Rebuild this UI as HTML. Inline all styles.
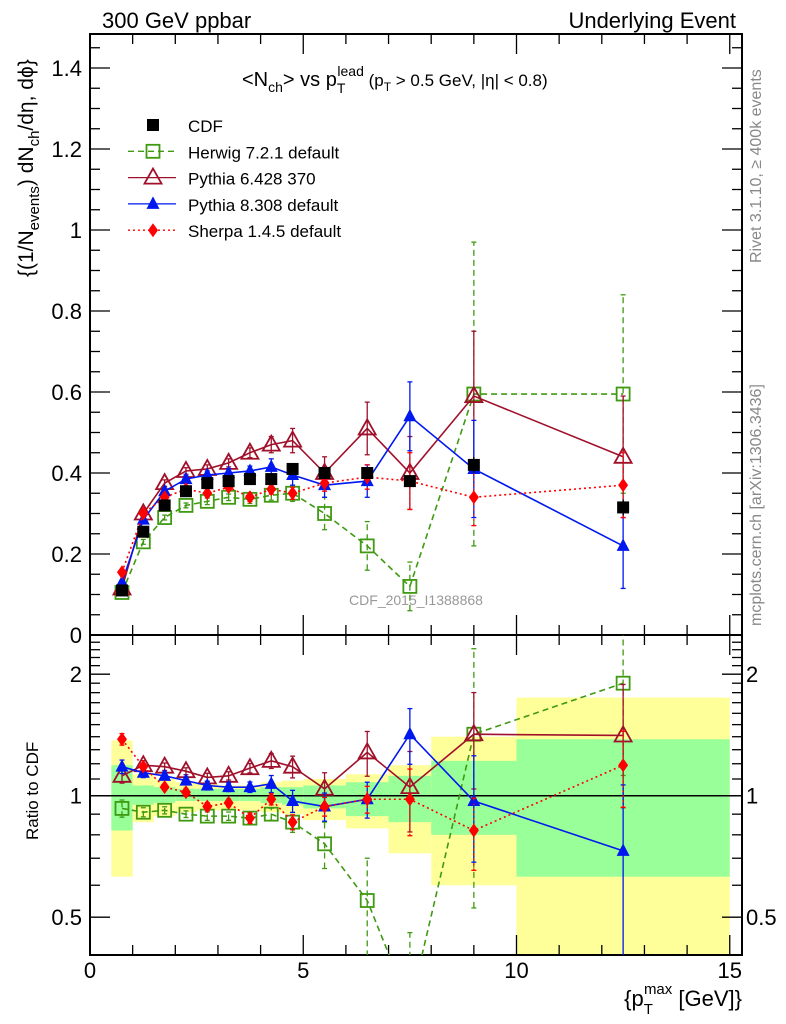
<!DOCTYPE html>
<html><head><meta charset="utf-8"><style>
html,body{margin:0;padding:0;background:#fff;overflow:hidden;width:786px;height:1024px;}
svg{font-family:"Liberation Sans",sans-serif;display:block;}
</style></head><body>
<svg id="chart" width="786" height="1024" viewBox="0 0 786 1024" xmlns="http://www.w3.org/2000/svg">
<defs>
<clipPath id="clipMain"><rect x="90" y="34" width="652" height="601"/></clipPath>
<clipPath id="clipRatio"><rect x="90" y="635" width="652" height="320"/></clipPath>
</defs>
<g id="bands" clip-path="url(#clipRatio)"></g>
<g id="axes"></g>
<g id="seriesMain" clip-path="url(#clipMain)"></g>
<g id="seriesRatio" clip-path="url(#clipRatio)"></g>
<text x="102" y="28" font-size="22">300 GeV ppbar</text>
<text x="736" y="28" font-size="22" text-anchor="end">Underlying Event</text>
<text x="242" y="86" font-size="20">&lt;N<tspan font-size="14" dy="6">ch</tspan><tspan dy="-6">&gt; vs p</tspan><tspan font-size="14" dy="7">T</tspan><tspan font-size="14" dx="-8" dy="-17">lead</tspan><tspan font-size="17" dy="10"> (p</tspan><tspan font-size="12" dy="5">T</tspan><tspan font-size="17" dy="-5"> &gt; 0.5 GeV, |η| &lt; 0.8)</tspan></text>
<text transform="translate(33,277) rotate(-90)" font-size="21">{(1/N<tspan font-size="15" dy="6">events</tspan><tspan dy="-6">) dN</tspan><tspan font-size="15" dy="6">ch</tspan><tspan dy="-6">/dη, dϕ}</tspan></text>
<text transform="translate(38,840) rotate(-90)" font-size="17">Ratio to CDF</text>
<text x="742" y="1006" font-size="22" text-anchor="end">{p<tspan font-size="15" dy="8">T</tspan><tspan font-size="15" dx="-9" dy="-20">max</tspan><tspan dy="12"> [GeV]}</tspan></text>
<text transform="translate(761,263) rotate(-90)" font-size="16" fill="#888">Rivet 3.1.10, ≥ 400k events</text>
<text transform="translate(761,626) rotate(-90)" font-size="16" fill="#888">mcplots.cern.ch [arXiv:1306.3436]</text>
<text x="416" y="605" font-size="14" fill="#999" text-anchor="middle">CDF_2015_I1388868</text>
<g id="legend"></g>
</svg>
<script>
const binEdges=[0.5,1,1.5,2,2.5,3,3.5,4,4.5,5,6,7,8,10,15];
const xCenters=[0.75,1.25,1.75,2.25,2.75,3.25,3.75,4.25,4.75,5.5,6.5,7.5,9,12.5];
const cdfVals=[0.11,0.255,0.32,0.355,0.375,0.38,0.385,0.385,0.41,0.40,0.40,0.38,0.42,0.315];
const cdfErr=[0.005,0.006,0.006,0.006,0.006,0.006,0.007,0.008,0.009,0.01,0.012,0.015,0.02,0.02];
const herwigVals=[0.105,0.23,0.29,0.32,0.33,0.34,0.335,0.345,0.35,0.30,0.22,0.12,0.595,0.595];
const herwigErr=[0.005,0.006,0.006,0.006,0.008,0.008,0.01,0.012,0.02,0.04,0.06,0.06,0.375,0.245];
const py6Vals=[0.115,0.30,0.375,0.405,0.41,0.425,0.45,0.47,0.48,0.40,0.51,0.40,0.59,0.44];
const py6Err=[0.005,0.008,0.008,0.008,0.01,0.01,0.012,0.02,0.03,0.04,0.065,0.09,0.16,0.15];
const py8Vals=[0.13,0.285,0.355,0.385,0.395,0.40,0.405,0.415,0.395,0.37,0.38,0.54,0.41,0.22];
const py8Err=[0.005,0.008,0.008,0.008,0.01,0.01,0.012,0.02,0.025,0.03,0.04,0.085,0.12,0.105];
const sherpaVals=[0.155,0.30,0.34,0.36,0.35,0.365,0.34,0.36,0.35,0.375,0.39,0.38,0.34,0.37];
const sherpaErr=[0.005,0.005,0.005,0.008,0.008,0.008,0.01,0.012,0.015,0.02,0.03,0.07,0.07,0.08];
const herwigRatio=[0.93,0.91,0.92,0.90,0.89,0.89,0.88,0.90,0.86,0.76,0.55,0.30,1.42,1.90];
const py6Ratio=[1.12,1.19,1.18,1.15,1.11,1.12,1.17,1.22,1.18,1.04,1.28,1.05,1.42,1.41];
const py8Ratio=[1.18,1.14,1.12,1.09,1.06,1.05,1.05,1.07,0.97,0.94,0.98,1.42,0.97,0.73];
const sherpaRatio=[1.38,1.18,1.05,1.02,0.94,0.96,0.88,0.98,0.86,0.94,0.98,0.98,0.82,1.19];
const yellowHi=[1.37,1.13,1.10,1.08,1.07,1.06,1.06,1.08,1.09,1.10,1.13,1.19,1.40,1.75];
const yellowLo=[0.63,0.86,0.89,0.91,0.92,0.92,0.92,0.91,0.90,0.87,0.83,0.72,0.60,0.30];
const greenHi=[1.19,1.06,1.05,1.04,1.04,1.04,1.04,1.05,1.05,1.06,1.08,1.12,1.22,1.38];
const greenLo=[0.82,0.95,0.96,0.97,0.97,0.97,0.97,0.96,0.95,0.93,0.89,0.86,0.80,0.63];
const mainTicks=[0,0.2,0.4,0.6,0.8,1,1.2,1.4];
const mainTickLabels=["0","0.2","0.4","0.6","0.8","1","1.2","1.4"];
const ratioTicks=[0.5,1,2];
const ratioTickLabels=["0.5","1","2"];
const xTicks=[0,5,10,15];
const xTickLabels=["0","5","10","15"];

const X0=90,X1=742,PX=42.65;
const xs=v=>X0+v*PX;
const ym=v=>635-v*405;
const yr=v=>795.7-121.5*Math.log2(v);
const NS="http://www.w3.org/2000/svg";
function mk(tag,attrs,parent){const e=document.createElementNS(NS,tag);for(const k in attrs)e.setAttribute(k,attrs[k]);parent.appendChild(e);return e;}

const bands=document.getElementById('bands');
for(let i=0;i<xCenters.length;i++){
  const a=xs(binEdges[i]),b=xs(binEdges[i+1]);
  const y1=mk('rect',{x:a,y:yr(yellowHi[i]),width:b-a,height:yr(yellowLo[i])-yr(yellowHi[i]),fill:'#ffff99'},bands);
  
  
  const g1=mk('rect',{x:a,y:yr(greenHi[i]),width:b-a,height:yr(greenLo[i])-yr(greenHi[i]),fill:'#99ff99'},bands);
  
  
}

const ax=document.getElementById('axes');
function frame(y0,y1,name){const r=mk('rect',{x:X0,y:y0,width:X1-X0,height:y1-y0,fill:'none',stroke:'#000','stroke-width':2},ax);}
frame(34,635,'main-plot-frame');frame(635,955,'ratio-plot-frame');
const one=mk('line',{x1:X0,x2:X1,y1:yr(1),y2:yr(1),stroke:'#000','stroke-width':1.5},ax);


function tk(x1,y1,x2,y2){mk('line',{x1,y1,x2,y2,stroke:'#000','stroke-width':1.3},ax);}
for(let v=0;v<=15;v++){const x=xs(v);const L=(v%5==0)?20:10;
  tk(x,635,x,635-L);tk(x,34,x,34+L);tk(x,955,x,955-L);tk(x,635,x,635+L);}
for(let k=0;k<=29;k++){const v=k*0.05;const y=ym(v);if(y<34)continue;const L=(k%4==0)?20:10;tk(X0,y,X0+L,y);tk(X1,y,X1-L,y);}
mainTicks.forEach((v,i)=>{const t=mk('text',{x:82,y:ym(v)+8,'font-size':22,'text-anchor':'end'},ax);t.textContent=mainTickLabels[i];
  });
[0.4,0.5,0.6,0.7,0.8,0.9,1,1.1,1.2,1.3,1.4,1.5,1.6,1.7,1.8,1.9,2,2.1,2.2,2.3,2.4].forEach(v=>{const y=yr(v);if(y<636||y>954)return;const L=(v==0.5||v==1||v==2)?20:10;tk(X0,y,X0+L,y);tk(X1,y,X1-L,y);});
ratioTicks.forEach((v,i)=>{
  const t=mk('text',{x:82,y:yr(v)+8,'font-size':22,'text-anchor':'end'},ax);t.textContent=ratioTickLabels[i];
  
  const t2=mk('text',{x:746,y:yr(v)+8,'font-size':22},ax);t2.textContent=ratioTickLabels[i];
  });
xTicks.forEach((v,i)=>{const t=mk('text',{x:xs(v),y:978,'font-size':22,'text-anchor':'middle'},ax);t.textContent=xTickLabels[i];
  });

function marker(g,type,x,y,col){
  if(type=='sq')mk('rect',{x:x-6,y:y-6,width:12,height:12,fill:'#000'},g);
  else if(type=='osq')mk('rect',{x:x-6.5,y:y-6.5,width:13,height:13,fill:'none',stroke:col,'stroke-width':1.8},g);
  else if(type=='otri')mk('polygon',{points:`${x},${y-9} ${x-8.5},${y+6} ${x+8.5},${y+6}`,fill:'none',stroke:col,'stroke-width':1.8},g);
  else if(type=='tri')mk('polygon',{points:`${x},${y-7.5} ${x-6.5},${y+5} ${x+6.5},${y+5}`,fill:col},g);
  else if(type=='dia')mk('polygon',{points:`${x},${y-7} ${x-5},${y} ${x},${y+7} ${x+5},${y}`,fill:col},g);
}
const series=[
 {name:'herwig',vals:herwigVals,err:herwigErr,ratio:herwigRatio,col:'#3f9a12',m:'osq',dash:'6,4',w:1.6},
 {name:'pythia6',vals:py6Vals,err:py6Err,ratio:py6Ratio,col:'#a0102a',m:'otri',dash:'',w:1.6},
 {name:'pythia8',vals:py8Vals,err:py8Err,ratio:py8Ratio,col:'#0018f0',m:'tri',dash:'',w:1.6},
 {name:'sherpa',vals:sherpaVals,err:sherpaErr,ratio:sherpaRatio,col:'#ff0000',m:'dia',dash:'2,3',w:1.6}
];
function draw(parent,s,yf,vals,errs){
  const g=mk('g',{},parent);
  
  
  const pts=xCenters.map((x,i)=>xs(x)+','+yf(vals[i])).join(' ');
  const a={points:pts,fill:'none',stroke:s.col,'stroke-width':s.w};if(s.dash)a['stroke-dasharray']=s.dash;
  mk('polyline',a,g);
  xCenters.forEach((x,i)=>{const X=xs(x);const lo=yf(Math.max(vals[i]-errs[i],0.01)),hi=yf(vals[i]+errs[i]);
    const b={x1:X,x2:X,y1:lo,y2:hi,stroke:s.col,'stroke-width':1.3};if(s.dash)b['stroke-dasharray']=s.dash;mk('line',b,g);
    mk('line',{x1:X-2.5,x2:X+2.5,y1:lo,y2:lo,stroke:s.col,'stroke-width':1.3},g);
    mk('line',{x1:X-2.5,x2:X+2.5,y1:hi,y2:hi,stroke:s.col,'stroke-width':1.3},g);
    marker(g,s.m,X,yf(vals[i]),s.col);});
}
const sm=document.getElementById('seriesMain'),sr=document.getElementById('seriesRatio');
series.forEach(s=>{
  draw(sm,s,ym,s.vals,s.err);
  draw(sr,s,yr,s.ratio,s.err.map((e,i)=>e/cdfVals[i]));
});
const cg=mk('g',{},sm);


xCenters.forEach((x,i)=>{mk('line',{x1:xs(x),x2:xs(x),y1:ym(cdfVals[i]-cdfErr[i]),y2:ym(cdfVals[i]+cdfErr[i]),stroke:'#000','stroke-width':1.3},cg);marker(cg,'sq',xs(x),ym(cdfVals[i]),'#000');});

const lg=document.getElementById('legend');
const legItems=[['CDF','sq','#000',''],['Herwig 7.2.1 default','osq','#3f9a12','6,4'],['Pythia 6.428 370','otri','#a0102a',''],['Pythia 8.308 default','tri','#0018f0',''],['Sherpa 1.4.5 default','dia','#ff0000','2,3']];
legItems.forEach((it,i)=>{const y=125+i*26.3;const g=mk('g',{},lg);
  
  
  if(i>0){const a={x1:128,x2:176,y1:y,y2:y,stroke:it[2],'stroke-width':1.3};if(it[3])a['stroke-dasharray']=it[3];mk('line',a,g);}
  marker(g,it[1],153,y,it[2]);
  const t=mk('text',{x:188,y:y+7,'font-size':17},g);t.textContent=it[0];});
</script>
</body></html>
